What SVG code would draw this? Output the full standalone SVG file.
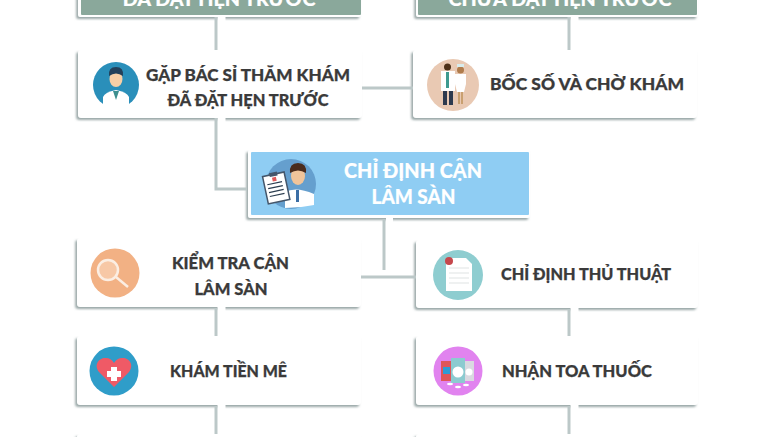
<svg xmlns="http://www.w3.org/2000/svg" width="780" height="437" viewBox="0 0 780 437">
<style>
text{font-family:"Lato","Liberation Sans",sans-serif;font-weight:900;text-anchor:middle}
.t{font-size:16.5px;fill:#3a3a3a;stroke:#3a3a3a;stroke-width:.25}
.w{font-size:20px;fill:#fff;stroke:#fff;stroke-width:.2}
.c{fill:none;stroke:#bcc8c8;stroke-width:3}
.g{fill:#fff;stroke:none}
.b{fill:#fff;filter:url(#s)}
</style>
<defs>
<filter id="s" x="-5%" y="-10%" width="110%" height="125%"><feDropShadow dx="-1.800" dy="2" stdDeviation="1.300" flood-color="#8f9f9f" flood-opacity=".9"/></filter>
</defs>
<rect width="780" height="437" fill="#fff"/>
<g id="n-datlich">
<rect class="b" x="78" y="-20" width="283" height="37" rx="2"/><rect x="81" y="-20" width="280" height="35" fill="#8aa89b" rx="1"/>
<text class="w" x="219" y="6" style="font-size:19px" textLength="193" lengthAdjust="spacingAndGlyphs">ĐÃ ĐẶT HẸN TRƯỚC</text>
</g>
<g id="n-chuadat">
<rect class="b" x="416" y="-20" width="282" height="37" rx="2"/><rect x="418" y="-20" width="279" height="35" fill="#8aa89b" rx="1"/>
<text class="w" x="560" y="6" style="font-size:19px" textLength="223" lengthAdjust="spacingAndGlyphs">CHƯA ĐẶT HẸN TRƯỚC</text>
</g>
<g id="n-gapbs">
<rect class="b" x="78" y="50" width="284" height="68" rx="3"/>
<circle cx="116" cy="85" r="23" fill="#2a8fba"/>
<path d="M103 108V97Q105 92 116 90Q127 92 129 97V108Z" fill="#fff"/>
<path d="M113 91L116 100L119 91Z" fill="#3d8f8f"/>
<ellipse cx="116" cy="79" rx="6.500" ry="8" fill="#f8cfa6"/>
<path d="M109 76Q108 67 116 67Q124 67 123 76Q116 71 109 76Z" fill="#23405a"/>
<text class="t" x="248" y="81" textLength="204" lengthAdjust="spacingAndGlyphs">GẶP BÁC SỈ THĂM KHÁM</text>
<text class="t" x="248" y="106" textLength="161" lengthAdjust="spacingAndGlyphs">ĐÃ ĐẶT HẸN TRƯỚC</text>
</g>
<g id="n-bocso">
<rect class="b" x="413" y="50" width="284" height="68" rx="3"/>
<circle cx="453" cy="85" r="26" fill="#e9c9b3"/>
<rect x="441" y="71" width="14" height="20" fill="#fff"/><rect x="443" y="91" width="4" height="14" fill="#2e3a4e"/><rect x="449" y="91" width="4" height="14" fill="#2e3a4e"/>
<circle cx="447.500" cy="67" r="3.500" fill="#4d3018"/><rect x="446" y="72" width="3" height="16" fill="#3d9a8f"/>
<rect x="455" y="74" width="11" height="10" fill="#fff"/><path d="M455 84H466L464 92H457Z" fill="#fff"/><rect x="458" y="92" width="2" height="12" fill="#c9a070"/><rect x="461" y="92" width="2" height="12" fill="#c9a070"/>
<circle cx="460.500" cy="70" r="3.500" fill="#b07c4c"/><rect x="457" y="64" width="7" height="3" fill="#d8ecec"/>
<text class="t" x="587" y="90" textLength="194" lengthAdjust="spacingAndGlyphs">BỐC SỐ VÀ CHỜ KHÁM</text>
</g>
<g id="n-chidinh">
<rect class="b" x="248" y="150" width="282" height="68" rx="2"/><rect x="251" y="152" width="278" height="63" fill="#8fcdf3" rx="1"/>
<circle cx="291" cy="184" r="25" fill="#659fce"/>
<path d="M285 208V192Q296 186 314 194V205Q300 208 285 208Z" fill="#fff"/>
<ellipse cx="298" cy="176" rx="7" ry="9" fill="#f0c49a"/>
<path d="M290 173Q289 163 298 163Q307 163 306 173Q298 168 290 173Z" fill="#4a2b1c"/>
<path d="M296 190h3v12h-3z" fill="#3b6ea5"/>
<g transform="rotate(-12 276 187)"><rect x="265" y="174" width="22" height="28" fill="#fff" stroke="#44566a" stroke-width="1.500"/><rect x="272" y="172" width="8" height="4" fill="#44566a"/><path d="M268 183h15M268 187h15M268 191h15M268 195h15" stroke="#2c3e50" stroke-width="1.200"/><rect x="274" y="177" width="4" height="4" fill="#e05a5a"/></g>
<text class="w" x="413" y="178" textLength="138" lengthAdjust="spacingAndGlyphs">CHỈ ĐỊNH CẬN</text>
<text class="w" x="413.500" y="204" textLength="84" lengthAdjust="spacingAndGlyphs">LÂM SÀN</text>
</g>
<g id="n-kiemtra">
<rect class="b" x="77" y="238" width="284" height="69" rx="3"/>
<circle cx="115" cy="273" r="24.500" fill="#f2b184"/>
<circle cx="108" cy="270" r="10" fill="#f7c8a6" stroke="#fbeee3" stroke-width="2.500"/>
<path d="M116 277L128 287" stroke="#fbeee3" stroke-width="2.500"/>
<text class="t" x="230.500" y="269" textLength="117" lengthAdjust="spacingAndGlyphs">KIỂM TRA CẬN</text>
<text class="t" x="231" y="295" textLength="73" lengthAdjust="spacingAndGlyphs">LÂM SÀN</text>
</g>
<g id="n-thuthuat">
<rect class="b" x="416" y="240" width="282" height="68" rx="3"/>
<circle cx="458" cy="275" r="25" fill="#8ecdd0"/>
<path d="M446 258H466L472 264V291H446Z" fill="#fff"/>
<path d="M449 268h20M449 273h20M449 278h20M449 283h20" stroke="#dfe4e4" stroke-width="1.200"/>
<circle cx="449" cy="261" r="4" fill="#c5474c"/>
<text class="t" x="586" y="280" textLength="170" lengthAdjust="spacingAndGlyphs">CHỈ ĐỊNH THỦ THUẬT</text>
</g>
<g id="n-tienme">
<rect class="b" x="77" y="336" width="284" height="69" rx="3"/>
<circle cx="114" cy="371" r="24.500" fill="#2f9dc9"/>
<path d="M114 387L99 372C93 364 100 357 106 358Q111 358 114 363Q117 358 122 358C128 357 135 364 129 372Z" fill="#ef5a66"/>
<path d="M111 367h6v4h4v6h-4v4h-6v-4h-4v-6h4z" fill="#fff"/>
<text class="t" x="228.500" y="377" textLength="117" lengthAdjust="spacingAndGlyphs">KHÁM TIỀN MÊ</text>
</g>
<g id="n-toathuoc">
<rect class="b" x="416" y="336" width="282" height="69" rx="3"/>
<circle cx="458" cy="371" r="24.500" fill="#e183ef"/>
<rect x="441" y="361" width="10" height="20" fill="#e0555a"/><rect x="443" y="367" width="7" height="7" fill="#2e9bd6"/>
<rect x="451" y="358" width="14" height="25" fill="#8ccbd0"/><circle cx="458" cy="372" r="5.500" fill="#fff"/>
<rect x="465" y="361" width="9" height="20" fill="#d9d9e0"/><circle cx="469" cy="372" r="3.500" fill="#fff"/>
<ellipse cx="450" cy="384" rx="3" ry="1.300" fill="#fff"/><ellipse cx="458" cy="387" rx="3" ry="1.300" fill="#fff"/><ellipse cx="466" cy="385" rx="3" ry="1.300" fill="#fff"/>
<text class="t" x="577" y="377" textLength="150" lengthAdjust="spacingAndGlyphs">NHẬN TOA THUỐC</text>
</g>
<g id="n-stub-l"><rect class="b" x="77" y="434" width="284" height="30" rx="3"/></g>
<g id="n-stub-r"><rect class="b" x="416" y="434" width="282" height="30" rx="3"/></g>
<g id="connectors">
<path class="g" d="M217.500 17h8v5h-8zM570.500 17h8v5h-8zM217.500 118h8v5h-8zM386 218h7v5h-7zM217.500 307h8v5h-8zM570.500 308h8v5h-8zM217.500 405h8v5h-8zM570.500 405h8v5h-8z"/>
<path class="c" d="M216 17V50"/>
<path class="c" d="M569 17V50"/>
<path class="c" d="M362 88H413"/>
<path class="c" d="M216 118V189H247"/>
<path class="c" d="M384 219V270"/>
<path class="c" d="M361 277H416"/>
<path class="c" d="M216 308V336"/>
<path class="c" d="M569 309V336"/>
<path class="c" d="M216 406V434"/>
<path class="c" d="M569 406V434"/>
</g>
</svg>
